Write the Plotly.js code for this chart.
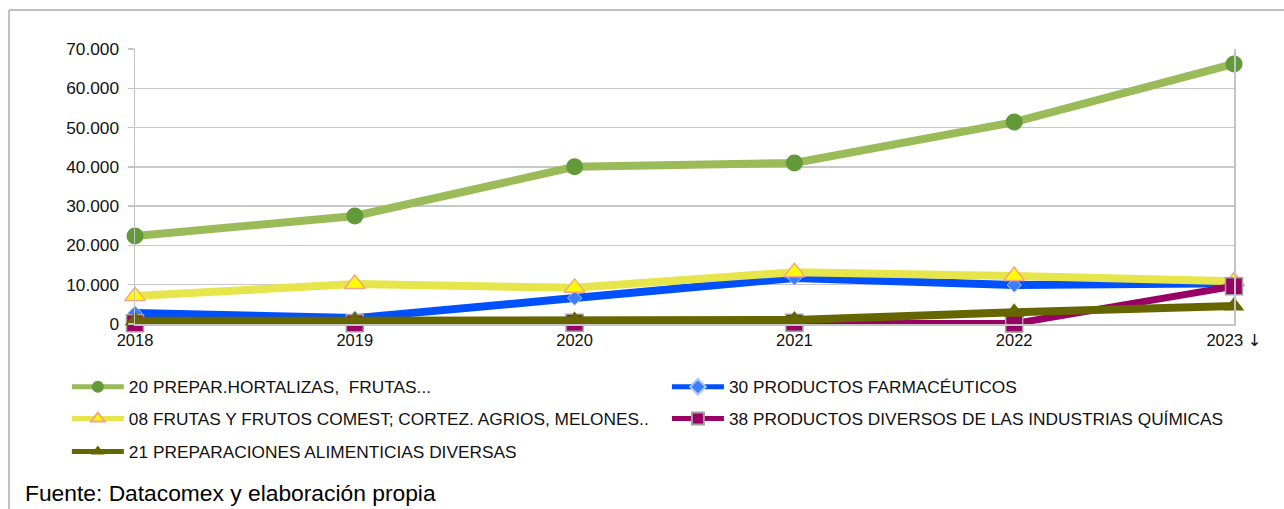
<!DOCTYPE html>
<html>
<head>
<meta charset="utf-8">
<script src="https://cdn.plot.ly/plotly-3.0.1.min.js"></script>
<style>
html,body{margin:0;padding:0;background:#fff;}
#chart{width:1284px;height:509px;}
</style>
</head>
<body>
<div id="chart"></div>
<script>
const years = ["2018", "2019", "2020", "2021", "2022", "2023"];
const yearLabels = ["2018", "2019", "2020", "2021", "2022", "2023 <span style=\"font-family:DejaVu Sans;color:#111\">↓</span>"];
const yTicks = [0, 10000, 20000, 30000, 40000, 50000, 60000, 70000];

const name20 = "20 PREPAR.HORTALIZAS,  FRUTAS...";
const name30 = "30 PRODUCTOS FARMACÉUTICOS";
const name08 = "08 FRUTAS Y FRUTOS COMEST; CORTEZ. AGRIOS, MELONES..";
const name38 = "38 PRODUCTOS DIVERSOS DE LAS INDUSTRIAS QUÍMICAS";
const name21 = "21 PREPARACIONES ALIMENTICIAS DIVERSAS";

const values20 = [22400, 27500, 40000, 41000, 51400, 66200];
const values30 = [2800, 1500, 6600, 11700, 9900, 10400];
const values08 = [7100, 10200, 9200, 13200, 12200, 10900];
const values38 = [200, 200, 300, 300, 100, 9600];
const values21 = [800, 800, 900, 1000, 3000, 4600];

const footer = "Fuente: Datacomex y elaboración propia";

const traces = [
  {x: years, y: values20, name: name20, legend: "legend", mode: "lines+markers", cliponaxis: false,
   line: {color: "#9bbb59", width: 8},
   marker: {symbol: "circle", size: 17, color: "#629a3a"}},
  {x: years, y: values30, name: name30, legend: "legend2", mode: "lines+markers", cliponaxis: false,
   line: {color: "#0050ff", width: 8},
   marker: {symbol: "diamond", size: 11, color: "#3d7dff", line: {color: "#a9c8f0", width: 1}}},
  {x: years, y: values08, name: name08, legend: "legend3", mode: "lines+markers", cliponaxis: false,
   line: {color: "#e6e64c", width: 8},
   marker: {symbol: "triangle-up", size: 18, color: "#ffff00", line: {color: "#f4a582", width: 1.5}}},
  {x: years, y: values38, name: name38, legend: "legend4", mode: "lines+markers", cliponaxis: false,
   line: {color: "#990066", width: 7},
   marker: {symbol: "square", size: 17, color: "#990066", line: {color: "#a0a0a0", width: 1.5}}},
  {x: years, y: values21, name: name21, legend: "legend5", mode: "lines+markers", cliponaxis: false,
   line: {color: "#666600", width: 8},
   marker: {symbol: "triangle-up", size: 18, color: "#666600"}}
];

const legendBase = {
  orientation: "h", xanchor: "left", yanchor: "middle",
  itemwidth: 52, itemsizing: "constant",
  font: {family: "Liberation Sans, Arial, sans-serif", size: 17.3, color: "#111"},
  bgcolor: "rgba(0,0,0,0)", borderwidth: 0
};
const col1 = -0.062, col2 = 0.484;
const row1 = -0.229, row2 = -0.345, row3 = -0.465;

const layout = {
  width: 1284, height: 509,
  margin: {l: 135, r: 50, t: 49, b: 185},
  paper_bgcolor: "#fff", plot_bgcolor: "#fff",
  separators: ",.",
  font: {family: "Liberation Sans, Arial, sans-serif", size: 17, color: "#111"},
  showlegend: true,
  legend: Object.assign({}, legendBase, {x: col1, y: row1}),
  legend2: Object.assign({}, legendBase, {x: col2, y: row1}),
  legend3: Object.assign({}, legendBase, {x: col1, y: row2}),
  legend4: Object.assign({}, legendBase, {x: col2, y: row2}),
  legend5: Object.assign({}, legendBase, {x: col1, y: row3}),
  xaxis: {
    type: "category", tickvals: years, ticktext: yearLabels,
    range: [0, 5], showgrid: false, zeroline: false,
    showline: true, linecolor: "#c4c4c4", linewidth: 1.5,
    ticks: "", ticklabelstandoff: 1,
    tickfont: {size: 16.5, color: "#111"}
  },
  yaxis: {
    range: [0, 70000], tickvals: yTicks, tickformat: ",d",
    showgrid: true, gridcolor: "#c8c8c8", gridwidth: 1.5,
    zeroline: false, showline: true, mirror: true, linecolor: "#c4c4c4", linewidth: 1.5,
    ticks: "outside", ticklen: 6, tickcolor: "#c4c4c4", tickwidth: 1.5,
    ticklabelstandoff: 5,
    tickfont: {size: 17.3, color: "#111"}
  },
  shapes: [
    {type: "line", xref: "paper", yref: "paper", x0: -0.1147, x1: 1.06, y0: 1.1418, y1: 1.1418,
     line: {color: "#c0c0c0", width: 2}},
    {type: "line", xref: "paper", yref: "paper", x0: -0.1147, x1: -0.1147, y0: 1.1418, y1: -0.72,
     line: {color: "#c0c0c0", width: 2}}
  ],
  annotations: [
    {xref: "paper", yref: "paper", x: (23 - 135) / 1099, y: (324 - 493) / 275,
     xanchor: "left", yanchor: "middle", showarrow: false, text: footer,
     font: {family: "Liberation Sans, Arial, sans-serif", size: 22.8, color: "#000"}}
  ]
};

Plotly.newPlot("chart", traces, layout, {displayModeBar: false, staticPlot: true});
</script>
</body>
</html>
